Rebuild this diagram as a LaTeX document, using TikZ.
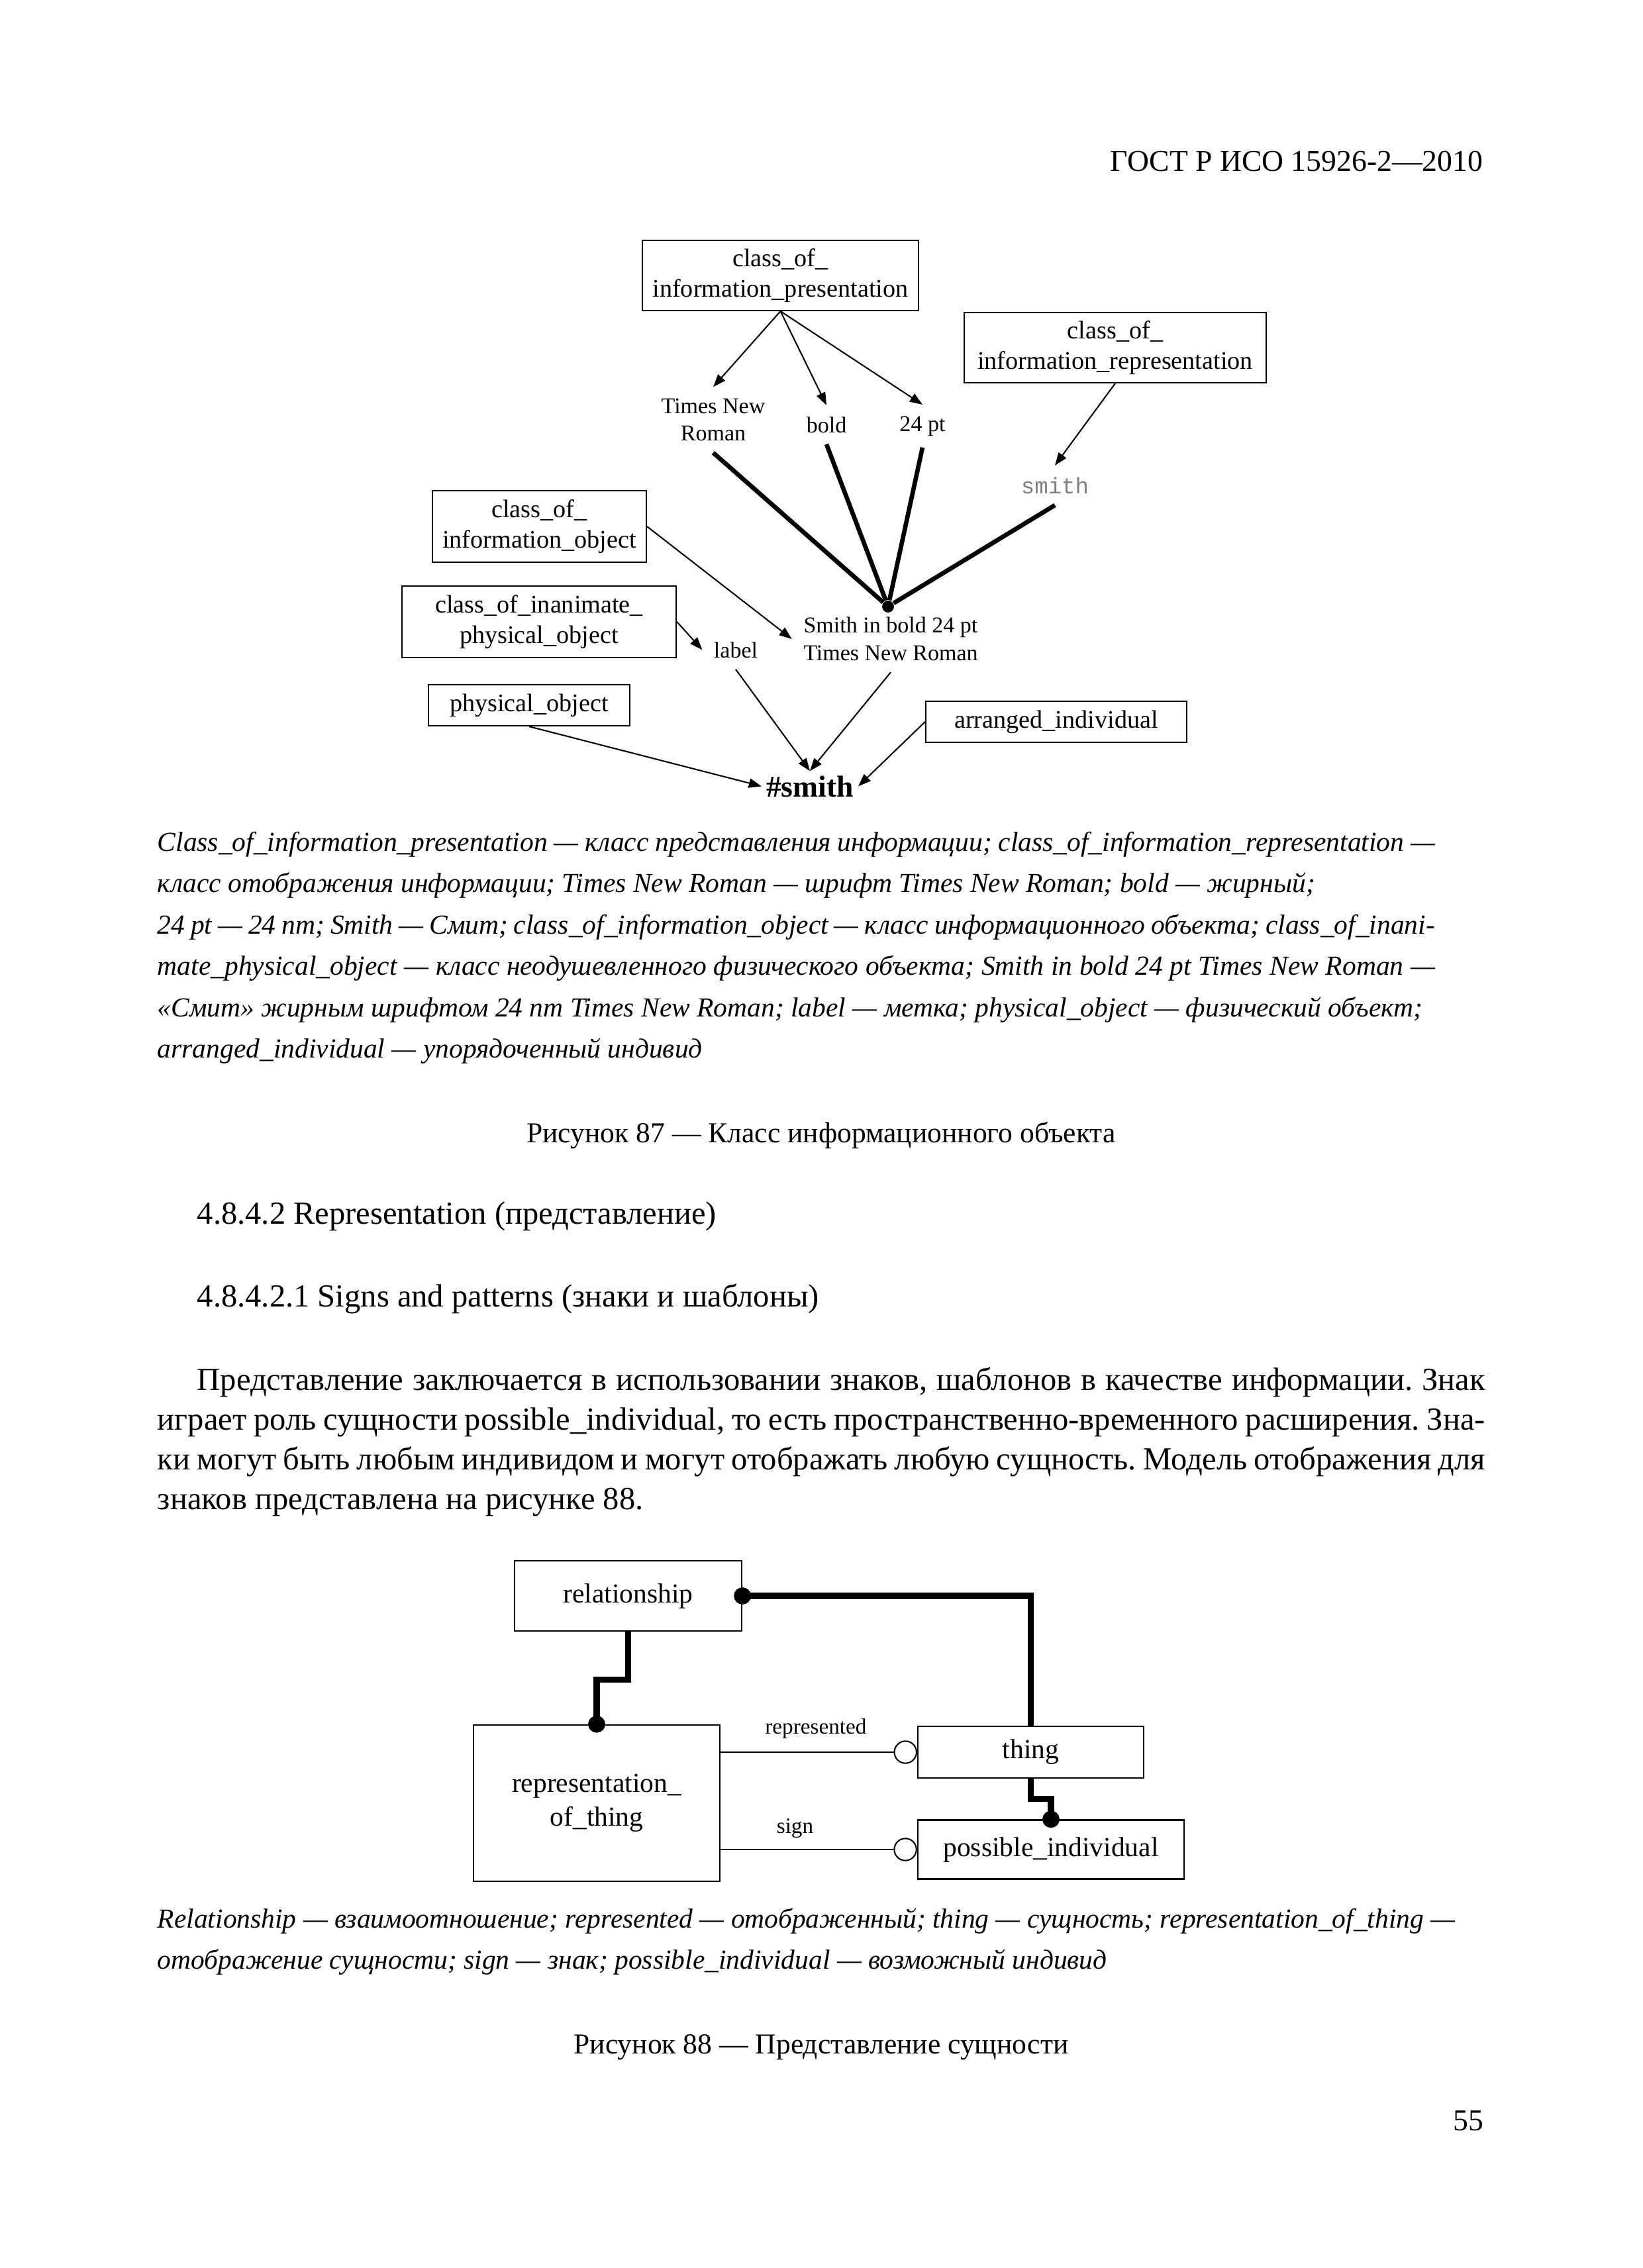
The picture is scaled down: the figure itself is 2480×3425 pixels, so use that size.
\documentclass[tikz,border=0pt]{standalone}
\usepackage{fontspec}
\setmainfont{Liberation Serif}
\setmonofont{Liberation Mono}
\usetikzlibrary{positioning}
\usetikzlibrary{arrows.meta}

\newcommand\fillline[2]{\makebox[#1][s]{#2}}
\frenchspacing

\tikzset{
  pagetext/.style={anchor=base west,inner sep=0pt,font=\fontsize{11.7}{14}\selectfont},
  note/.style={anchor=base west,inner sep=0pt,font=\fontsize{10}{12}\selectfont\itshape},
  figcap/.style={anchor=base,inner sep=0pt,font=\fontsize{10.5}{13}\selectfont},
  infobox/.style={draw,line width=0.5bp,inner sep=0pt,align=center,font=\fontsize{9.2}{11}\selectfont},
  word/.style={inner sep=4bp,align=center,font=\fontsize{8.2}{10}\selectfont},
  thin/.style={line width=0.5bp,-{Triangle[length=4.6bp,width=3.4bp]}},
  heavy/.style={line width=1.6bp},
  entity/.style={draw,line width=0.55bp,inner sep=0pt,align=center,font=\fontsize{10}{12.3}\selectfont},
  link/.style={line width=2.2bp},
  slim/.style={line width=0.5bp},
  dot/.style={circle,fill,inner sep=0pt,minimum size=6.2bp},
  ring/.style={circle,draw,fill=white,line width=0.5bp,inner sep=0pt,minimum size=8bp},
  rolename/.style={anchor=base,inner sep=0pt,font=\fontsize{8}{10}\selectfont}
}

\begin{document}
\begin{tikzpicture}[x=0.24bp,y=-0.24bp]
  \fill[white] (0,0) rectangle (2480,3425);
  \useasboundingbox (0,0) rectangle (2480,3425);

  \node (head) at (2240,258)[anchor=base east,inner sep=0pt,font=\fontsize{11}{13}\selectfont]{ГОСТ Р ИСО 15926-2—2010};

  % figure 87
  \node (cip) at (1178.5,416)[infobox,minimum width=100.1bp,minimum height=25.4bp]{class\_of\_\\information\_presentation};
  \node (cir) at (1684,525)[infobox,minimum width=109.4bp,minimum height=25.4bp]{class\_of\_\\information\_representation};
  \node (cio) at (814.5,795)[infobox,minimum width=77.5bp,minimum height=25.9bp]{class\_of\_\\information\_object};
  \node (ciao) at (814,939)[infobox,minimum width=99.4bp,minimum height=25.9bp]{class\_of\_inanimate\_\\physical\_object};
  \node (po) at (799,1065)[infobox,minimum width=73bp,minimum height=14.9bp]{physical\_object};
  \node (ai) at (1595,1090)[infobox,minimum width=94.6bp,minimum height=14.9bp]{arranged\_individual};

  \node (tnr) at (1077,634)[word]{Times New\\Roman};
  \node (bold) at (1248,653)[word,anchor=base]{bold};
  \node (pt) at (1393,651)[word,anchor=base]{24 pt};
  \node (smith) at (1593,745)[word,anchor=base,font=\fontsize{8.2}{10}\selectfont\ttfamily,text=black!50]{smith};
  \node (label) at (1111,993)[word,anchor=base]{label};
  \node (sib) at (1345,965)[word]{Smith in bold 24 pt\\Times New Roman};
  \node (hsmith) at (1223,1203)[anchor=base,inner sep=1.5bp,font=\fontsize{11}{13}\selectfont\bfseries]{\#smith};
  \node (hub) at (1341,916)[circle,fill,inner sep=0pt,minimum size=4.3bp]{};

  \draw[thin] (cip.south) -- (tnr.north);
  \draw[thin] (cip.south) -- (bold.north);
  \draw[thin] (cip.south) -- (pt.north);
  \draw[thin] (cir.south) -- (smith.north);
  \draw[heavy] (tnr.south) -- (hub);
  \draw[heavy] (bold.south) -- (hub);
  \draw[heavy] (pt.south) -- (hub);
  \draw[heavy] (smith.south) -- (hub);
  \draw[thin] (cio.east) -- (sib.west);
  \draw[thin] (ciao.east) -- (label.west);
  \draw[thin] (label.south) -- (hsmith.north);
  \draw[thin] (sib.south) -- (hsmith.north);
  \draw[thin] (po.south) -- (hsmith.west);
  \draw[thin] (ai.west) -- (hsmith.east);

  \node (n1a) at (237,1285)[note]{\fillline{463bp}{Class\_of\_information\_presentation — класс представления информации; class\_of\_information\_representation —}};
  \node (n1b) at (237,1347)[note]{класс отображения информации; Times New Roman — шрифт Times New Roman; bold — жирный;};
  \node (n1c) at (237,1410)[note]{\fillline{463bp}{24 pt — 24 пт; Smith — Смит; class\_of\_information\_object — класс информационного объекта; class\_of\_inani-}};
  \node (n1d) at (237,1472)[note]{\fillline{463bp}{mate\_physical\_object — класс неодушевленного физического объекта; Smith in bold 24 pt Times New Roman —}};
  \node (n1e) at (237,1535)[note]{«Смит» жирным шрифтом 24 пт Times New Roman; label — метка; physical\_object — физический объект;};
  \node (n1f) at (237,1597)[note]{arranged\_individual — упорядоченный индивид};

  \node (cap87) at (1240,1725)[figcap]{Рисунок 87 — Класс информационного объекта};

  \node (sec1) at (297,1848)[pagetext]{4.8.4.2 Representation (представление)};
  \node (sec2) at (297,1973)[pagetext]{4.8.4.2.1 Signs and patterns (знаки и шаблоны)};
  \node (par1) at (297,2099)[pagetext]{\fillline{466.8bp}{Представление заключается в использовании знаков, шаблонов в качестве информации. Знак}};
  \node (par2) at (237,2159)[pagetext]{\fillline{481.2bp}{играет роль сущности possible\_individual, то есть пространственно-временного расширения. Зна-}};
  \node (par3) at (237,2219)[pagetext]{\fillline{481.2bp}{ки могут быть любым индивидом и могут отображать любую сущность. Модель отображения для}};
  \node (par4) at (237,2279)[pagetext]{знаков представлена на рисунке 88.};

  % figure 88
  \node (rel) at (948.5,2410)[entity,minimum width=82.3bp,minimum height=25.4bp]{relationship};
  \node (rot) at (901,2723)[entity,minimum width=89.3bp,minimum height=56.7bp]{representation\_\\of\_thing};
  \node (thing) at (1556.5,2646)[entity,minimum width=81.8bp,minimum height=18.8bp]{thing};
  \node (pi) at (1587,2793)[entity,minimum width=96.5bp,minimum height=21.4bp]{possible\_individual};

  \draw[link] (rel.east) -| (thing.north);
  \draw[link] (rel.south) -- ++(0,72) -| (rot.north);
  \draw[link] (thing.south) -- ++(0,30) -| (pi.north);
  \node (d1) at (rel.east)[dot]{};
  \node (d2) at (rot.north)[dot]{};
  \node (d3) at (pi.north)[dot]{};

  \node (r1) at (thing.west)[ring,anchor=east]{};
  \node (r2) at (pi.west)[ring,anchor=east]{};
  \draw[slim] (rot.east |- r1) -- (r1) node[pos=.55,rolename,yshift=6.5bp](represented){represented};
  \draw[slim] (rot.east |- r2) -- (r2) node[pos=.43,rolename,yshift=5.8bp](sign){sign};

  \node (n2a) at (237,2911)[note]{Relationship — взаимоотношение; represented — отображенный; thing — сущность; representation\_of\_thing —};
  \node (n2b) at (237,2973)[note]{отображение сущности; sign — знак; possible\_individual — возможный индивид};

  \node (cap88) at (1240,3101)[figcap]{Рисунок 88 — Представление сущности};

  \node (folio) at (2241,3217)[anchor=base east,inner sep=0pt,font=\fontsize{11}{13}\selectfont]{55};
\end{tikzpicture}
\end{document}
